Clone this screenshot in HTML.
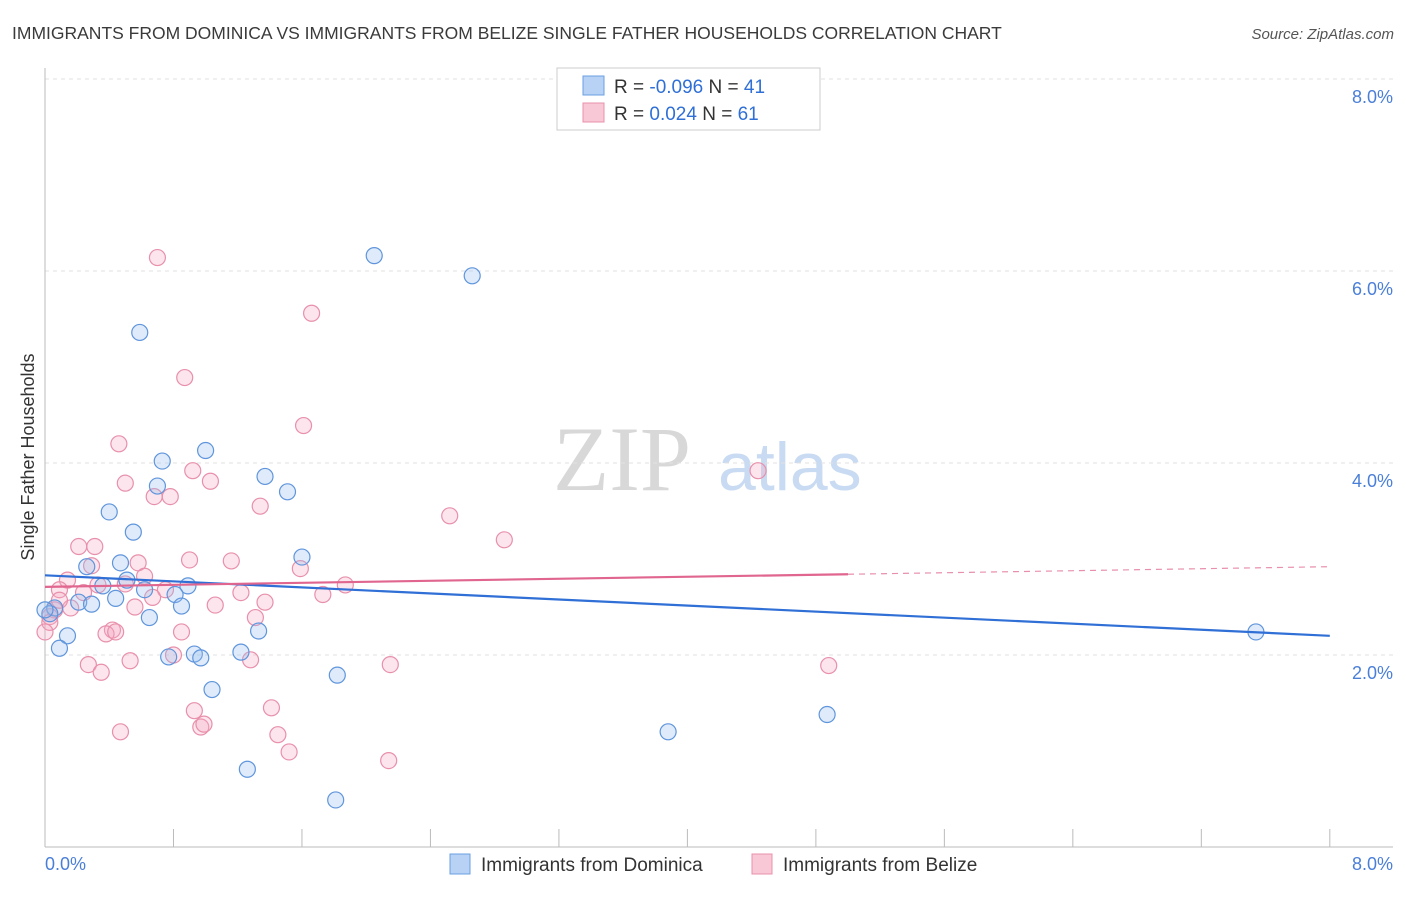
<!DOCTYPE html>
<html><head><meta charset="utf-8"><style>
body{margin:0;background:#fff;font-family:"Liberation Sans",sans-serif;}
</style></head><body>
<svg id="chart" width="1406" height="892" xmlns="http://www.w3.org/2000/svg" font-family="Liberation Sans, sans-serif">
<text x="12" y="39" font-size="17.5" fill="#3a3a3a">IMMIGRANTS FROM DOMINICA VS IMMIGRANTS FROM BELIZE SINGLE FATHER HOUSEHOLDS CORRELATION CHART</text>
<text x="1394" y="39" font-size="15" fill="#555" text-anchor="end" font-style="italic">Source: ZipAtlas.com</text>
<text x="553" y="490" font-size="92" fill="#d8d8d8" font-family="Liberation Serif, serif">ZIP</text>
<text x="718" y="490" font-size="68" fill="#c9dbf2">atlas</text>
<text transform="translate(34,457) rotate(-90)" font-size="18" fill="#333" text-anchor="middle">Single Father Households</text>
<g id="grid"></g>
<g id="points"></g>
<g id="trends"></g>
<g>
<rect x="557" y="68" width="263" height="62" fill="#fff" stroke="#ccc"/>
<rect x="583" y="76" width="21" height="19" fill="#b8d2f5" stroke="#6a9fe0"/>
<rect x="583" y="103" width="21" height="19" fill="#f9c8d6" stroke="#e890ab"/>
<text x="614" y="93" font-size="19" fill="#333">R = <tspan fill="#2f6fd6">-0.096</tspan>   N = <tspan fill="#2f6fd6">41</tspan></text>
<text x="614" y="120" font-size="19" fill="#333">R =  <tspan fill="#2f6fd6">0.024</tspan>   N = <tspan fill="#2f6fd6">61</tspan></text>
</g>
<g>
<rect x="450" y="854" width="20" height="20" fill="#b8d2f5" stroke="#6a9fe0"/>
<text x="481" y="871" font-size="19" fill="#333">Immigrants from Dominica</text>
<rect x="752" y="854" width="20" height="20" fill="#f9c8d6" stroke="#e890ab"/>
<text x="783" y="871" font-size="19" fill="#333">Immigrants from Belize</text>
</g>
</svg>
<script>
const yTicks=[2,4,6,8];
const yTickLabels=["2.0%","4.0%","6.0%","8.0%"];
const xTickCount=10;
const blueX=[0.59,2.05,2.66,1.00,0.73,1.37,0.70,1.51,0.40,0.55,1.60,0.47,0.26,0.51,0.36,0.89,0.62,0.81,0.44,0.21,0.29,0.85,0.06,0.03,0.65,1.33,0.14,0.09,1.22,0.93,0.77,0.97,1.04,1.82,4.87,3.88,1.26,1.81,7.54,0.00];
const blueY=[5.36,6.16,5.95,4.13,4.02,3.86,3.76,3.70,3.49,3.28,3.02,2.96,2.92,2.78,2.72,2.72,2.68,2.63,2.59,2.55,2.53,2.51,2.49,2.43,2.39,2.25,2.20,2.07,2.03,2.01,1.98,1.97,1.64,1.79,1.38,1.20,0.81,0.49,2.24,2.47];
const pinkX=[0.70,1.66,0.87,1.61,0.46,0.92,1.03,0.50,0.68,0.78,1.34,2.52,2.86,0.21,0.31,0.90,1.16,0.58,0.29,1.59,0.14,0.62,0.33,0.50,1.87,0.75,0.09,0.24,0.67,1.73,1.22,1.37,0.56,1.06,0.16,0.06,0.03,0.42,0.85,0.38,0.44,1.31,0.80,0.53,0.27,0.35,1.28,2.15,4.88,4.44,0.93,1.41,0.97,0.99,0.47,1.45,1.52,2.14,0.03,0.00,0.09];
const pinkY=[6.14,5.56,4.89,4.39,4.20,3.92,3.81,3.79,3.65,3.65,3.55,3.45,3.20,3.13,3.13,2.99,2.98,2.96,2.93,2.90,2.78,2.82,2.73,2.74,2.73,2.68,2.68,2.65,2.60,2.63,2.65,2.55,2.50,2.52,2.49,2.47,2.40,2.26,2.24,2.22,2.24,2.39,2.00,1.94,1.90,1.82,1.95,1.90,1.89,3.92,1.42,1.45,1.25,1.28,1.20,1.17,0.99,0.90,2.34,2.24,2.57];
const blueTrend=[2.83,2.20];
const pinkTrend=[2.71,2.92];
const pinkSolidEnd=5.0;
const NS="http://www.w3.org/2000/svg";
const sx=v=>45+v*160.6, sy=v=>847-v*96;
function mk(t,a,p){const e=document.createElementNS(NS,t);for(const k in a)e.setAttribute(k,a[k]);p.appendChild(e);return e;}
const grid=document.getElementById('grid');
yTicks.forEach((t,i)=>{
 const l=mk('line',{x1:45,x2:1393,y1:sy(t),y2:sy(t),stroke:'#e2e2e2','stroke-dasharray':'4,4'},grid);
 
 
 const tx=mk('text',{x:1393,y:sy(t)+24,'font-size':18,fill:'#4a7fd8','text-anchor':'end'},grid);
 tx.textContent=yTickLabels[i];
 
 
});
const ax=mk('line',{x1:45,x2:45,y1:68,y2:847,stroke:'#bbb'},grid);


const bx=mk('line',{x1:45,x2:1393,y1:847,y2:847,stroke:'#bbb'},grid);


for(let i=0;i<=xTickCount;i++){
 const x=sx(i*0.8);
 const t=mk('line',{x1:x,x2:x,y1:829,y2:847,stroke:'#bbb'},grid);
 
 
}
const x0=mk('text',{x:45,y:870,'font-size':18,fill:'#4a7fd8'},grid);x0.textContent='0.0%';


const x8=mk('text',{x:1393,y:870,'font-size':18,fill:'#4a7fd8','text-anchor':'end'},grid);x8.textContent='8.0%';


const pts=document.getElementById('points');
pinkX.forEach((v,i)=>{
 const c=mk('circle',{cx:sx(v),cy:sy(pinkY[i]),r:8,fill:'rgba(245,170,195,0.3)',stroke:'#e890ab','stroke-width':1.2},pts);
 
 
});
blueX.forEach((v,i)=>{
 const c=mk('circle',{cx:sx(v),cy:sy(blueY[i]),r:8,fill:'rgba(150,190,240,0.3)',stroke:'#5f95dc','stroke-width':1.2},pts);
 
 
});
const tr=document.getElementById('trends');
const b=mk('line',{x1:sx(0),y1:sy(blueTrend[0]),x2:sx(8),y2:sy(blueTrend[1]),stroke:'#2f6fd6','stroke-width':2.2},tr);


const pm=pinkTrend[0]+(pinkTrend[1]-pinkTrend[0])*pinkSolidEnd/8;
const p1=mk('line',{x1:sx(0),y1:sy(pinkTrend[0]),x2:sx(pinkSolidEnd),y2:sy(pm),stroke:'#e0658f','stroke-width':2.2},tr);


const p2=mk('line',{x1:sx(pinkSolidEnd),y1:sy(pm),x2:sx(8),y2:sy(pinkTrend[1]),stroke:'#e890ab','stroke-width':1.2,'stroke-dasharray':'6,5'},tr);


</script>
</body></html>
